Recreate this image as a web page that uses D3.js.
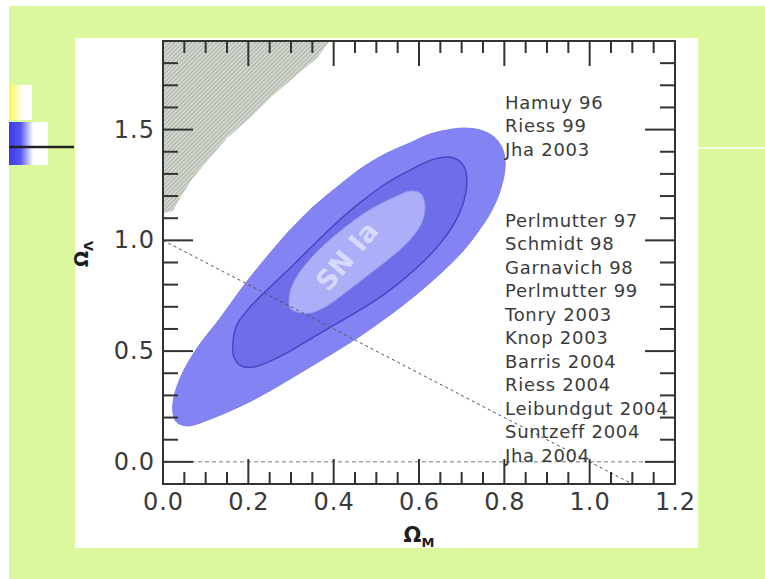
<!DOCTYPE html>
<html>
<head>
<meta charset="utf-8">
<script src="https://cdn.jsdelivr.net/npm/d3@7"></script>
<style>
  html, body { margin: 0; padding: 0; background: #ffffff; }
  svg { display: block; }
</style>
</head>
<body>
<svg id="chart" width="765" height="579"></svg>
<script>
// ---------------- DATA ----------------
const xDomain = [0, 1.2];
const yDomain = [-0.1, 1.9];
const xTickValues = [0.0, 0.2, 0.4, 0.6, 0.8, 1.0, 1.2];
const xTickLabels = ["0.0", "0.2", "0.4", "0.6", "0.8", "1.0", "1.2"];
const yTickValues = [0.0, 0.5, 1.0, 1.5];
const yTickLabels = ["0.0", "0.5", "1.0", "1.5"];
const xMinorStep = 0.05;
const yMinorStep = 0.1;

// Confidence contours [Omega_M, Omega_Lambda]
const outerContour = [
  [0.026,0.198],[0.023,0.257],[0.030,0.324],[0.047,0.406],[0.080,0.514],[0.134,0.649],
  [0.192,0.803],[0.251,0.943],[0.298,1.047],[0.352,1.151],[0.408,1.241],[0.469,1.331],
  [0.525,1.394],[0.579,1.440],[0.626,1.480],[0.666,1.498],[0.703,1.507],[0.743,1.498],
  [0.773,1.471],[0.795,1.417],[0.802,1.340],[0.792,1.236],[0.771,1.137],[0.738,1.038],
  [0.701,0.947],[0.659,0.866],[0.612,0.785],[0.563,0.708],[0.509,0.631],[0.455,0.559],
  [0.391,0.482],[0.333,0.415],[0.274,0.347],[0.216,0.284],[0.157,0.230],[0.105,0.189],
  [0.059,0.162],[0.035,0.175]
];
const middleContour = [
  [0.164,0.537],[0.173,0.618],[0.204,0.699],[0.251,0.789],[0.298,0.875],[0.345,0.965],
  [0.391,1.051],[0.438,1.133],[0.485,1.205],[0.532,1.268],[0.584,1.322],[0.630,1.363],
  [0.666,1.376],[0.691,1.363],[0.708,1.322],[0.712,1.254],[0.703,1.164],[0.682,1.074],
  [0.649,0.984],[0.609,0.902],[0.565,0.826],[0.516,0.753],[0.462,0.686],[0.405,0.622],
  [0.349,0.559],[0.298,0.500],[0.251,0.455],[0.213,0.428],[0.183,0.433],[0.166,0.473]
];
const innerContour = [
  [0.298,0.695],[0.298,0.767],[0.312,0.830],[0.335,0.893],[0.363,0.952],[0.396,1.011],
  [0.431,1.065],[0.469,1.119],[0.509,1.164],[0.548,1.200],[0.581,1.223],[0.605,1.209],
  [0.614,1.151],[0.605,1.074],[0.574,0.993],[0.532,0.920],[0.490,0.857],[0.438,0.780],
  [0.384,0.704],[0.345,0.672],[0.314,0.677]
];

// "No Big Bang" hatched region boundary
const noBigBang = [
  [0,1.9],[0.391,1.9],[0.361,1.823],[0.305,1.733],[0.251,1.643],[0.204,1.552],
  [0.150,1.462],[0.110,1.372],[0.070,1.281],[0.040,1.191],[0.023,1.132],[0,1.123]
];

// Reference lines
const flatLine = [[0, 1.0], [1.1, -0.1]];
const zeroLine = [[0, 0], [1.2, 0]];

// Text
const contourLabel = "SN Ia";
const contourLabelPos = [0.431, 0.929];
const refsGroup1 = ["Hamuy 96", "Riess 99", "Jha 2003"];
const refsGroup2 = ["Perlmutter 97", "Schmidt 98", "Garnavich 98", "Perlmutter 99",
  "Tonry 2003", "Knop 2003", "Barris 2004", "Riess 2004", "Leibundgut 2004",
  "Suntzeff 2004", "Jha 2004"];

// ---------------- DRAW ----------------
const svg = d3.select("#chart");
const defs = svg.append("defs");

// Background slide
svg.append("rect").attr("x", 0).attr("y", 0).attr("width", 765).attr("height", 579).attr("fill", "#ffffff");
svg.append("rect").attr("x", 9).attr("y", 6).attr("width", 756).attr("height", 573).attr("fill", "#dbf99c");

// decorations on the left
const gy = defs.append("linearGradient").attr("id", "gYellow");
gy.append("stop").attr("offset", "0%").attr("stop-color", "#fbf64a");
gy.append("stop").attr("offset", "30%").attr("stop-color", "#fdfbb0");
gy.append("stop").attr("offset", "65%").attr("stop-color", "#ffffff");
const gb = defs.append("linearGradient").attr("id", "gBlue");
gb.append("stop").attr("offset", "0%").attr("stop-color", "#3a3aea");
gb.append("stop").attr("offset", "30%").attr("stop-color", "#5858ee");
gb.append("stop").attr("offset", "62%").attr("stop-color", "#ffffff");
svg.append("rect").attr("x", 9).attr("y", 85).attr("width", 23).attr("height", 35).attr("fill", "url(#gYellow)");
svg.append("rect").attr("x", 9).attr("y", 122).attr("width", 39).attr("height", 43).attr("fill", "url(#gBlue)");
svg.append("line").attr("x1", 9).attr("x2", 74).attr("y1", 147).attr("y2", 147)
  .attr("stroke", "#222").attr("stroke-width", 2.5);
svg.append("line").attr("x1", 698).attr("x2", 765).attr("y1", 148).attr("y2", 148)
  .attr("stroke", "#f6ffe6").attr("stroke-width", 2);

// White panel
svg.append("rect").attr("x", 75).attr("y", 38).attr("width", 623).attr("height", 510).attr("fill", "#ffffff");

// Scales
const x = d3.scaleLinear().domain(xDomain).range([163, 675]);
const y = d3.scaleLinear().domain(yDomain).range([484, 41]);

// Hatch pattern
const pat = defs.append("pattern").attr("id", "hatch").attr("patternUnits", "userSpaceOnUse")
  .attr("width", 3).attr("height", 3).attr("patternTransform", "rotate(45)");
pat.append("rect").attr("width", 3).attr("height", 3).attr("fill", "#d3d8cf");
pat.append("line").attr("x1", 0).attr("y1", 0).attr("x2", 0).attr("y2", 3)
  .attr("stroke", "#8e988e").attr("stroke-width", 1.2);

const lineGen = d3.line().x(d => x(d[0])).y(d => y(d[1]));
const closedGen = d3.line().x(d => x(d[0])).y(d => y(d[1])).curve(d3.curveCatmullRomClosed.alpha(0.5));

svg.append("path").attr("d", lineGen(noBigBang) + "Z").attr("fill", "url(#hatch)");

// Contours
svg.append("path").attr("d", closedGen(outerContour)).attr("fill", "#8383f4")
  .attr("stroke", "#7c7cef").attr("stroke-width", 1);
svg.append("path").attr("d", closedGen(middleContour)).attr("fill", "#6e6ee9")
  .attr("stroke", "#4444c6").attr("stroke-width", 1.4);
svg.append("path").attr("d", closedGen(innerContour)).attr("fill", "#acaef8")
  .attr("stroke", "#9697f2").attr("stroke-width", 1);

// Label in the contour
svg.append("text")
  .attr("transform", `translate(${x(contourLabelPos[0])},${y(contourLabelPos[1])}) rotate(-50)`)
  .attr("text-anchor", "middle").attr("dominant-baseline", "central")
  .attr("font-family", "DejaVu Sans, sans-serif").attr("font-weight", "bold")
  .attr("font-size", 27).attr("fill", "#dcdfff").attr("fill-opacity", 0.92)
  .text(contourLabel);

// Dashed reference lines
svg.append("path").attr("d", lineGen(flatLine)).attr("fill", "none")
  .attr("stroke", "#555").attr("stroke-width", 1).attr("stroke-dasharray", "3,3");
svg.append("path").attr("d", lineGen(zeroLine)).attr("fill", "none")
  .attr("stroke", "#777").attr("stroke-width", 1).attr("stroke-dasharray", "4,3");

// Reference list text
function drawRefs(list, y0) {
  svg.append("g").selectAll("text").data(list).enter().append("text")
    .attr("x", 505).attr("y", (d, i) => y0 + i * 23.5)
    .attr("dominant-baseline", "central")
    .attr("font-family", "DejaVu Sans, sans-serif").attr("font-size", 18)
    .attr("letter-spacing", "0.7px")
    .attr("fill", "#3b3b3b").text(d => d);
}
drawRefs(refsGroup1, 102);
drawRefs(refsGroup2, 220);

// Axes frame
const axisColor = "#333";
const frame = svg.append("g");
frame.append("rect").attr("x", x(xDomain[0])).attr("y", y(yDomain[1]))
  .attr("width", x(xDomain[1]) - x(xDomain[0])).attr("height", y(yDomain[0]) - y(yDomain[1]))
  .attr("fill", "none").attr("stroke", axisColor).attr("stroke-width", 2);

const xMinor = d3.range(Math.round((xDomain[1] - xDomain[0]) / xMinorStep) + 1).map(i => xDomain[0] + i * xMinorStep);
const isMajorX = v => xTickValues.some(t => Math.abs(t - v) < 1e-6);
xMinor.forEach(v => {
  const len = isMajorX(v) ? 25 : 12;
  frame.append("line").attr("x1", x(v)).attr("x2", x(v)).attr("y1", y(yDomain[0])).attr("y2", y(yDomain[0]) - len)
    .attr("stroke", axisColor).attr("stroke-width", 2);
  frame.append("line").attr("x1", x(v)).attr("x2", x(v)).attr("y1", y(yDomain[1])).attr("y2", y(yDomain[1]) + len)
    .attr("stroke", axisColor).attr("stroke-width", 2);
});
const yMinor = d3.range(Math.round((yDomain[1] - yDomain[0]) / yMinorStep) + 1).map(i => yDomain[0] + i * yMinorStep);
const isMajorY = v => yTickValues.some(t => Math.abs(t - v) < 1e-6);
yMinor.forEach(v => {
  const len = isMajorY(v) ? 30 : 15;
  frame.append("line").attr("x1", x(xDomain[0])).attr("x2", x(xDomain[0]) + len).attr("y1", y(v)).attr("y2", y(v))
    .attr("stroke", axisColor).attr("stroke-width", 2);
  frame.append("line").attr("x1", x(xDomain[1])).attr("x2", x(xDomain[1]) - len).attr("y1", y(v)).attr("y2", y(v))
    .attr("stroke", axisColor).attr("stroke-width", 2);
});

// Tick labels
const tickFont = "DejaVu Sans, sans-serif";
svg.append("g").selectAll("text").data(xTickValues).enter().append("text")
  .attr("x", d => x(d) + 0.5).attr("y", 510)
  .attr("text-anchor", "middle").attr("font-family", tickFont).attr("font-size", 24)
  .attr("letter-spacing", "1px").attr("fill", "#3a3a3a")
  .text((d, i) => xTickLabels[i]);
svg.append("g").selectAll("text").data(yTickValues).enter().append("text")
  .attr("x", 155).attr("y", d => y(d))
  .attr("text-anchor", "end").attr("dominant-baseline", "central")
  .attr("font-family", tickFont).attr("font-size", 24)
  .attr("letter-spacing", "1px").attr("fill", "#3a3a3a")
  .text((d, i) => yTickLabels[i]);

// Axis titles
const xt = svg.append("text").attr("x", x(0.6)).attr("y", 542).attr("text-anchor", "middle")
  .attr("font-family", "DejaVu Sans, sans-serif").attr("font-weight", "bold").attr("fill", "#1e1e1e");
xt.append("tspan").attr("font-size", 21).text("Ω");
xt.append("tspan").attr("font-size", 13).attr("dy", 5).text("M");

const yt = svg.append("text").attr("transform", "translate(88,254) rotate(-90)").attr("text-anchor", "middle")
  .attr("font-family", "DejaVu Sans, sans-serif").attr("font-weight", "bold").attr("fill", "#1e1e1e");
yt.append("tspan").attr("font-size", 19).text("Ω");
yt.append("tspan").attr("font-size", 13).attr("dy", 5).text("Λ");
</script>
</body>
</html>
